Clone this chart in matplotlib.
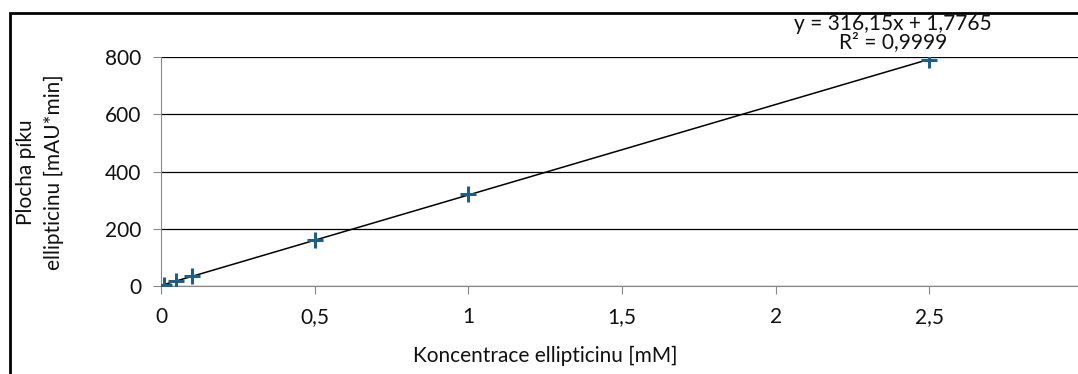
import matplotlib
matplotlib.use("Agg")
import matplotlib.pyplot as plt
from matplotlib.patches import Rectangle
import numpy as np

conc = [0.01, 0.05, 0.1, 0.5, 1.0, 2.5]
area = [4.0, 17.5, 33.5, 161.0, 322.0, 791.0]
xticks = [0, 0.5, 1, 1.5, 2, 2.5, 3]
xticklabels = ["0", "0,5", "1", "1,5", "2", "2,5", "3"]
yticks = [0, 200, 400, 600, 800]
yticklabels = ["0", "200", "400", "600", "800"]
slope, intercept = 316.15, 1.7765

plt.rcParams['font.family'] = ['Lato', 'DejaVu Sans']
plt.rcParams['font.weight'] = 'normal'

W, H = 1078, 374
fig = plt.figure(figsize=(W/100, H/100), dpi=100)
fig.patch.set_facecolor('white')

fig.patches.append(Rectangle((10/W, -0.1), 1.2, (H-13)/H + 0.1, transform=fig.transFigure,
                             fill=False, edgecolor='black', linewidth=2.0))

left, right = 161/W, 1083/W
bottom, top = (H-286)/H, (H-57)/H
ax = fig.add_axes([left, bottom, right-left, top-bottom])
ax.set_xlim(0, 3)
ax.set_ylim(0, 800)

for s in ['top', 'right']:
    ax.spines[s].set_visible(False)
ax.spines['left'].set_color('#888888')
ax.spines['bottom'].set_color('#888888')

ax.set_yticks(yticks)
ax.set_yticklabels(yticklabels)
ax.set_xticks(xticks)
ax.set_xticklabels(xticklabels)
ax.tick_params(axis='both', colors='#888888', labelcolor='#111111', labelsize=15, length=6)
ax.tick_params(axis='x', pad=9)
ax.tick_params(axis='y', pad=8)
ax.grid(axis='y', color='black', linewidth=0.9)
ax.set_axisbelow(True)

xs = np.array([0, 2.5])
ax.plot(xs, slope*xs + intercept, color='black', linewidth=1.1, zorder=3)
ax.plot(conc, area, linestyle='none', marker='+', markersize=11, markeredgewidth=2.2,
        color='#1f5f85', zorder=4)

fig.text(545/W, 1-356/H, "Koncentrace ellipticinu [mM]", ha='center', va='center',
         fontsize=15, color='#111111')
fig.text(40/W, 1-172/H, "Plocha píku\nellipticinu [mAU*min]", rotation=90,
         ha='center', va='center', fontsize=15, linespacing=1.45, color='#111111')

fig.text(893/W, 1-24/H, "y = 316,15x + 1,7765", ha='center', va='center',
         fontsize=15, color='#111111')
fig.text(893/W, 1-42/H, "R² = 0,9999", ha='center', va='center',
         fontsize=15, color='#111111')

fig.savefig("out.png", dpi=100, facecolor='white')
